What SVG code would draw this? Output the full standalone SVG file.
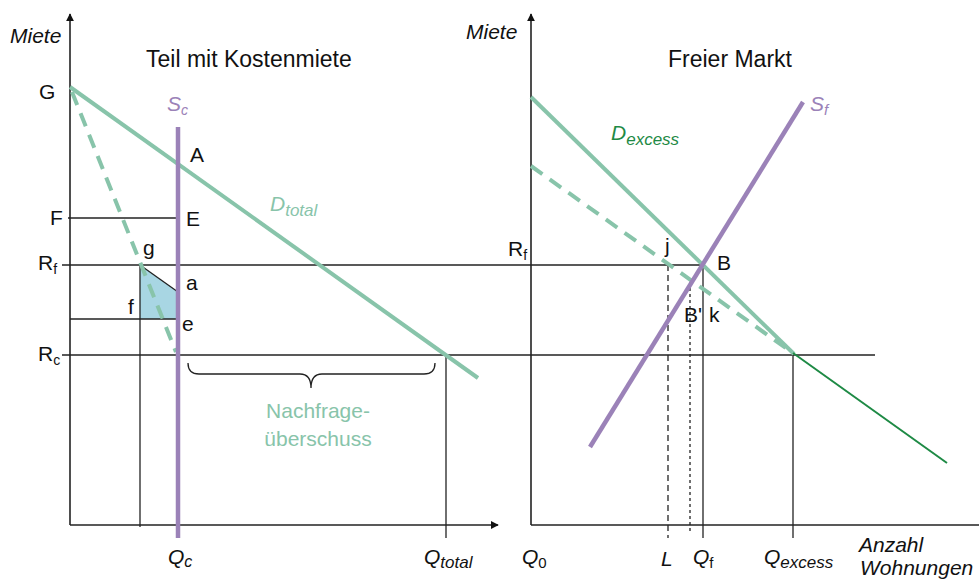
<svg xmlns="http://www.w3.org/2000/svg" width="979" height="579" viewBox="0 0 979 579">
<style>
text{font-family:"Liberation Sans",Arial,sans-serif;fill:#111;font-size:21px}
.it{font-style:italic}
.ax{stroke:#222;stroke-width:1.6;fill:none}
.thin{stroke:#222;stroke-width:1.3;fill:none}
.dem{stroke:#88c4aa;stroke-width:4;fill:none}
.dash{stroke:#88c4aa;stroke-width:4;fill:none;stroke-dasharray:14 9}
.sup{stroke:#9b82b8;stroke-width:4.5;fill:none}
.lg{fill:#88c4aa}
.pu{fill:#9b82b8}
.sub{font-size:14px}
.ttl{font-size:23px}
</style>
<defs>
<marker id="ar" viewBox="0 0 10 10" refX="9" refY="5" markerWidth="8" markerHeight="8" markerUnits="userSpaceOnUse" orient="auto"><path d="M0,0L10,5L0,10z" fill="#111"/></marker>
</defs>
<rect width="979" height="579" fill="#fff"/>
<g id="shade"><polygon points="140,265 178,292 178,319 140,319" fill="#a8d6e3"/></g>
<g id="connectors">
<line class="ax" x1="70" y1="525" x2="70" y2="14" marker-end="url(#ar)"/>
<line class="ax" x1="70" y1="525" x2="498" y2="525" marker-end="url(#ar)"/>
<line class="ax" x1="531" y1="525" x2="531" y2="14" marker-end="url(#ar)"/>
<line class="ax" x1="531" y1="525" x2="979" y2="525"/>
<line class="thin" x1="68" y1="218" x2="178" y2="218"/>
<line class="thin" x1="62" y1="265" x2="704" y2="265"/>
<line class="thin" x1="70" y1="319" x2="178" y2="319"/>
<line class="thin" x1="62" y1="355" x2="875" y2="355"/>
<line class="thin" x1="140" y1="265" x2="140" y2="527"/>
<line class="thin" x1="140" y1="265" x2="178" y2="292"/>
<line class="thin" x1="446" y1="355" x2="446" y2="538"/>
<path class="thin" d="M188,363 Q188,374 199,374 L300,374 Q311,374 311,388 Q311,374 322,374 L424,374 Q435,374 435,363" stroke="#555"/>
<line class="thin" x1="668" y1="265" x2="668" y2="538" stroke-dasharray="6 4"/>
<line class="thin" x1="690" y1="282" x2="690" y2="532" stroke-dasharray="3 3"/>
<line class="thin" x1="703" y1="265" x2="703" y2="538"/>
<line class="thin" x1="793" y1="353" x2="793" y2="538"/>
<line class="dash" x1="72" y1="92" x2="176" y2="352"/>
<line class="dem" x1="70" y1="87" x2="478" y2="378"/>
<line class="sup" x1="178" y1="127" x2="178" y2="538"/>
<line class="dash" x1="531" y1="166" x2="790" y2="351"/>
<line class="dem" x1="531" y1="97" x2="794" y2="354"/>
<line x1="793" y1="353" x2="947" y2="463" stroke="#1e8a45" stroke-width="2"/>
<line class="sup" x1="590" y1="447" x2="803" y2="102"/>
</g>
<g id="labels">
<text x="10" y="43" class="it" font-size="17">Miete</text>
<text x="466" y="39" class="it" font-size="17">Miete</text>
<text x="146" y="67" class="ttl">Teil mit Kostenmiete</text>
<text x="668" y="67" class="ttl">Freier Markt</text>
<text x="39" y="99">G</text>
<text x="167" y="111" class="it pu" font-size="22">S<tspan class="sub" dy="4" font-size="15">c</tspan></text>
<text x="190" y="162">A</text>
<text x="270" y="211" class="it lg" font-size="22">D<tspan dy="5" font-size="17">total</tspan></text>
<text x="50" y="225">F</text>
<text x="186" y="226">E</text>
<text x="143" y="255">g</text>
<text x="38" y="270">R<tspan class="sub" dy="4">f</tspan></text>
<text x="186" y="290">a</text>
<text x="128" y="314">f</text>
<text x="182" y="331">e</text>
<text x="38" y="361">R<tspan class="sub" dy="4">c</tspan></text>
<text x="318" y="418" class="lg" text-anchor="middle" font-size="23.5">Nachfrage-</text>
<text x="318" y="446" class="lg" text-anchor="middle" font-size="23.5">überschuss</text>
<text x="168" y="564" class="it">Q<tspan dy="3" font-size="16">c</tspan></text>
<text x="424" y="564" class="it">Q<tspan dy="4" font-size="17">total</tspan></text>
<text x="611" y="140" class="it" font-size="22" style="fill:#1e8a45">D<tspan dy="5" font-size="17">excess</tspan></text>
<text x="810" y="111" class="it pu" font-size="22">S<tspan dy="4" font-size="15">f</tspan></text>
<text x="508" y="256">R<tspan class="sub" dy="4">f</tspan></text>
<text x="665" y="253">j</text>
<text x="717" y="270">B</text>
<text x="684" y="322">B'</text>
<text x="709" y="322">k</text>
<text x="522" y="564" class="it">Q<tspan dy="4" font-size="15" style="font-style:normal">0</tspan></text>
<text x="661" y="566" class="it">L</text>
<text x="693" y="564" class="it">Q<tspan dy="4" font-size="15" style="font-style:normal">f</tspan></text>
<text x="764" y="564" class="it">Q<tspan dy="4" font-size="17">excess</tspan></text>
<text x="859" y="552" class="it" font-size="18">Anzahl</text>
<text x="860" y="575" class="it" font-size="18">Wohnungen</text>
</g>
</svg>
